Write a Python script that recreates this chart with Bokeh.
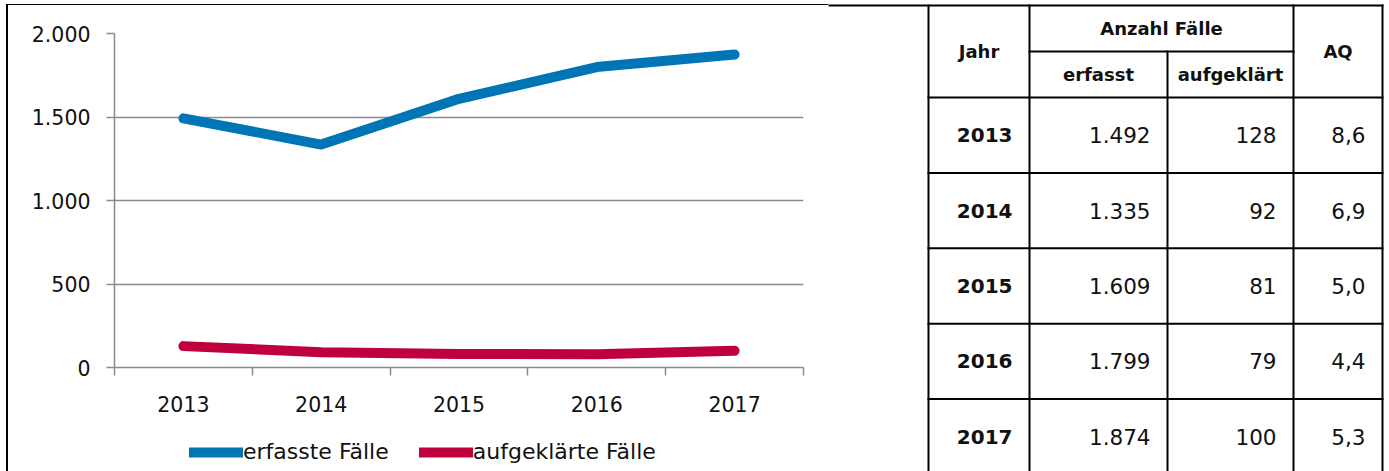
from bokeh.plotting import figure
from bokeh.models import (Range1d, FixedTicker, Legend, LegendItem, Spacer,
                          ColumnDataSource)
from bokeh.layouts import row, column
from bokeh.embed import file_html
from bokeh.resources import INLINE
from bokeh.core.properties import value

# ---------------- data ----------------
years = ["2013", "2014", "2015", "2016", "2017"]
erfasst = [1492, 1335, 1609, 1799, 1874]
aufgeklaert = [128, 92, 81, 79, 100]
aq = [8.6, 6.9, 5.0, 4.4, 5.3]
series_names = ["erfasste Fälle", "aufgeklärte Fälle"]
y_ticks = [0, 500, 1000, 1500, 2000]
y_tick_labels = ["0", "500", "1.000", "1.500", "2.000"]
header_year = "Jahr"
header_group = "Anzahl Fälle"
header_cols = ["erfasst", "aufgeklärt"]
header_aq = "AQ"

# ---------------- style ----------------
FONT = "DejaVu Sans"
BLUE = "#0075B5"
RED = "#C0003C"
GRAY = "#8A8A8A"
TXT = "#111111"
H = 471
CHART_X0, CHART_Y0 = 8, 5          # chart canvas origin on the page
LEG_Y0 = 430                       # legend strip starts here on the page
W1 = 828 - CHART_X0
H1 = LEG_Y0 - CHART_Y0
HL = H - LEG_Y0
W2 = 561

xs = [i + 0.5 for i in range(len(years))]
src = ColumnDataSource(dict(x=xs, erfasst=erfasst, aufgeklaert=aufgeklaert))

# ---------------- chart ----------------
p = figure(width=W1, height=H1, output_backend="svg", toolbar_location=None,
           x_range=Range1d(0, len(years)), y_range=Range1d(0, 2000),
           min_border_left=114 - CHART_X0, min_border_right=25,
           min_border_top=33 - CHART_Y0, min_border_bottom=LEG_Y0 - 367,
           frame_align=False)
p.outline_line_color = None
p.background_fill_color = "white"
p.border_fill_color = "white"

line_kw = dict(line_width=10, line_cap="round", line_join="round")
p.line("x", "erfasst", source=src, line_color=BLUE, **line_kw)
p.line("x", "aufgeklaert", source=src, line_color=RED, **line_kw)

xa = p.xaxis[0]
xa.ticker = FixedTicker(ticks=xs, minor_ticks=list(range(len(years) + 1)))
xa.major_label_overrides = {x: y for x, y in zip(xs, years)}
xa.major_tick_out = 0
xa.major_tick_in = 0
xa.minor_tick_out = 8
xa.minor_tick_in = 0
xa.minor_tick_line_color = GRAY
xa.minor_tick_line_width = 1.5
xa.axis_line_color = GRAY
xa.axis_line_width = 1.5
xa.major_label_standoff = 20
xa.major_label_text_font = FONT
xa.major_label_text_font_size = "20.5px"
xa.major_label_text_color = TXT

ya = p.yaxis[0]
ya.ticker = FixedTicker(ticks=y_ticks, minor_ticks=[])
ya.major_label_overrides = {t: l for t, l in zip(y_ticks, y_tick_labels)}
ya.major_tick_out = 8
ya.major_tick_in = 0
ya.major_tick_line_color = GRAY
ya.major_tick_line_width = 1.5
ya.minor_tick_line_color = None
ya.axis_line_color = GRAY
ya.axis_line_width = 1.5
ya.major_label_standoff = 16
ya.major_label_text_font = FONT
ya.major_label_text_font_size = "20.5px"
ya.major_label_text_color = TXT

p.xgrid.visible = False
p.ygrid.ticker = FixedTicker(ticks=y_ticks, minor_ticks=[])
p.ygrid.grid_line_color = GRAY
p.ygrid.grid_line_width = 1.5

# ---------------- legend strip (same series, legend only) ----------------
lg = figure(width=W1, height=HL, output_backend="svg", toolbar_location=None,
            x_range=Range1d(0, len(years)), y_range=Range1d(5000, 6000),
            x_axis_location=None, y_axis_location=None, min_border=0,
            frame_align=False)
lg.grid.visible = False
lg.outline_line_color = None
l1 = lg.line("x", "erfasst", source=src, line_color=BLUE, **line_kw)
l2 = lg.line("x", "aufgeklaert", source=src, line_color=RED, **line_kw)
legend = Legend(items=[LegendItem(label=value(series_names[0]), renderers=[l1]),
                       LegendItem(label=value(series_names[1]), renderers=[l2])],
                location=(189 - CHART_X0, HL - (464 - LEG_Y0)),
                orientation="horizontal", padding=0, margin=0,
                spacing=30, glyph_width=54, glyph_height=20, label_height=20,
                label_standoff=0, label_text_font=FONT, label_text_font_size="22px",
                label_text_color=TXT, border_line_color=None,
                background_fill_alpha=0)
lg.add_layout(legend)

# ---------------- table ----------------
t = figure(width=W2, height=H, output_backend="svg", toolbar_location=None,
           x_range=Range1d(0, W2), y_range=Range1d(H, 0),
           x_axis_location=None, y_axis_location=None, min_border=0,
           frame_align=False)
t.grid.visible = False
t.outline_line_color = None

col_x = [100, 201, 339, 465, 554]
top_y = 5
sub_y = 51
head_y = 97
row_h = 75.4
n = len(years)
row_edges = [head_y + row_h * (i + 1) for i in range(n)]
bottom = H + 20

sx0 = [0, col_x[1], col_x[0]] + [col_x[0]] * n + [col_x[0], col_x[1], col_x[2], col_x[3], col_x[4]]
sx1 = [col_x[4], col_x[3], col_x[4]] + [col_x[4]] * n + [col_x[0], col_x[1], col_x[2], col_x[3], col_x[4]]
sy0 = [top_y, sub_y, head_y] + row_edges + [top_y, top_y, sub_y, top_y, top_y]
sy1 = [top_y, sub_y, head_y] + row_edges + [bottom] * 5
t.segment(x0=sx0, y0=sy0, x1=sx1, y1=sy1, line_color="black", line_width=2,
          line_cap="square")

hdr_x = [(col_x[0] + col_x[1]) / 2, (col_x[1] + col_x[3]) / 2,
         (col_x[1] + col_x[2]) / 2, (col_x[2] + col_x[3]) / 2,
         (col_x[3] + col_x[4]) / 2]
hdr_y = [(top_y + head_y) / 2, (top_y + sub_y) / 2,
         (sub_y + head_y) / 2, (sub_y + head_y) / 2, (top_y + head_y) / 2]
hdr_t = [header_year, header_group, header_cols[0], header_cols[1], header_aq]
t.text(x=hdr_x, y=hdr_y, text=hdr_t, text_font=value(FONT), text_font_style="bold",
       text_font_size="18px", text_align="center", text_baseline="middle",
       text_color=TXT)

row_c = [head_y + row_h * (i + 0.5) for i in range(n)]
pad = 17
t.text(x=[col_x[1] - pad] * n, y=row_c, text=years, text_font=value(FONT),
       text_font_style="bold", text_font_size="20px", text_align="right",
       text_baseline="middle", text_color=TXT)
vals = ([f"{v:,}".replace(",", ".") for v in erfasst] + [str(v) for v in aufgeklaert]
        + [f"{v:.1f}".replace(".", ",") for v in aq])
vx = [col_x[2] - pad] * n + [col_x[3] - pad] * n + [col_x[4] - pad] * n
t.text(x=vx, y=row_c * 3, text=vals, text_font=value(FONT), text_font_size="21.5px",
       text_align="right", text_baseline="middle", text_color=TXT)

# ---------------- outer frame lines of the chart box ----------------
BLACK = {"background-color": "black"}
top_gap = Spacer(width=W1 + 2, height=CHART_Y0 - 1)
top_rule = Spacer(width=W1 + 2, height=1, styles=BLACK)
left_rule = Spacer(width=2, height=H - CHART_Y0, styles=BLACK)
chart_col = column(p, lg, spacing=0)
left_block = column(top_gap, top_rule, row(left_rule, chart_col, spacing=0), spacing=0)

layout = row(Spacer(width=CHART_X0 - 2, height=H), left_block, t, spacing=0)
open("out.html", "w").write(file_html(layout, INLINE))
